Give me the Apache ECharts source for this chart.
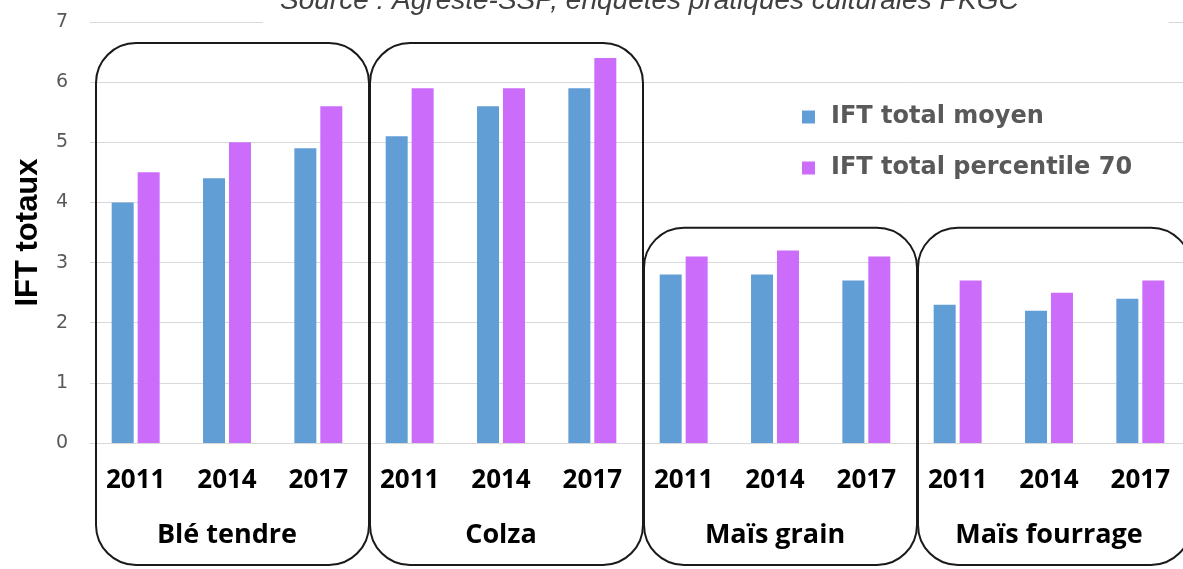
<!DOCTYPE html>
<html>
<head>
<meta charset="utf-8">
<script src="https://cdn.jsdelivr.net/npm/echarts@6/dist/echarts.min.js"></script>
<style>
  html, body { margin: 0; padding: 0; background: #fff; }
  .bar { width: 1183px; height: 569px; }
</style>
</head>
<body>
<div class="bar"></div>
<script>
// données
const groups = ['Blé tendre', 'Colza', 'Maïs grain', 'Maïs fourrage'];
const years = ['2011', '2014', '2017'];
const iftMoyen = [4.0, 4.4, 4.9, 5.1, 5.6, 5.9, 2.8, 2.8, 2.7, 2.3, 2.2, 2.4];
const iftP70 = [4.5, 5.0, 5.6, 5.9, 5.9, 6.4, 3.1, 3.2, 3.1, 2.7, 2.5, 2.7];
const yTicks = [0, 1, 2, 3, 4, 5, 6, 7];
// hauteur du haut des cadres arrondis (en unités IFT)
const frameTops = [6.65, 6.65, 3.58, 3.58];

{
  const categories = [];
  groups.forEach(g => years.forEach(y => categories.push(g + '|' + y)));

  let option = {
    title: {
      text: 'Source : Agreste-SSP, enquêtes pratiques culturales PKGC',
      left: 263,
      top: -13,
      padding: [0, 150, 15, 17],
      backgroundColor: '#fff',
      textStyle: {
        fontFamily: 'Liberation Sans',
        fontStyle: 'italic',
        fontWeight: 'normal',
        fontSize: 28,
        color: '#404040'
      }
    },
    legend: {
      data: ['IFT total moyen', 'IFT total percentile 70'],
      orient: 'vertical',
      left: 797,
      top: 100,
      icon: 'rect',
      itemWidth: 13,
      itemHeight: 13,
      itemGap: 27,
      textStyle: {
        fontFamily: 'DejaVu Sans',
        fontWeight: 'bold',
        fontSize: 24,
        color: '#595959',
        padding: [0, 0, 0, 11]
      }
    },
    grid: {
      left: 90,
      right: -3,
      top: 22,
      bottom: 126,
      outerBoundsMode: 'none'
    },
    xAxis: [{
      type: 'category',
      data: categories,
      axisLine: { lineStyle: { color: '#d9d9d9' } },
      axisTick: { show: false },
      axisLabel: {
        interval: 0,
        margin: 25,
        fontFamily: 'Open Sans',
        fontWeight: 'bold',
        fontSize: 26,
        color: '#000',
        formatter: v => v.split('|')[1]
      }
    }, {
      type: 'category',
      data: groups,
      position: 'bottom',
      offset: 54,
      axisLine: { show: false },
      axisTick: { show: false },
      axisLabel: {
        interval: 0,
        margin: 25,
        fontFamily: 'Open Sans',
        fontWeight: 'bold',
        fontSize: 27,
        color: '#000'
      }
    }],
    yAxis: {
      type: 'value',
      min: yTicks[0],
      max: yTicks[yTicks.length - 1],
      interval: 1,
      name: 'IFT totaux',
      nameLocation: 'middle',
      nameGap: 46,
      nameTextStyle: {
        fontFamily: 'Liberation Sans',
        fontWeight: 'bold',
        fontSize: 31,
        color: '#000'
      },
      axisLine: { show: false },
      axisTick: { show: false },
      axisLabel: {
        margin: 22,
        fontFamily: 'DejaVu Sans',
        fontSize: 19,
        color: '#595959'
      },
      splitLine: { lineStyle: { color: '#d9d9d9', width: 1 } }
    },
    series: [{
      name: 'IFT total moyen',
      type: 'bar',
      barWidth: 22,
      barGap: '18%',
      itemStyle: { color: '#629ed6' },
      data: iftMoyen
    }, {
      name: 'IFT total percentile 70',
      type: 'bar',
      barWidth: 22,
      itemStyle: { color: '#cc6cfa' },
      data: iftP70
    }, {
      // cadres arrondis autour de chaque culture
      type: 'custom',
      silent: true,
      clip: false,
      z: 5,
      encode: { x: 0, y: 1 },
      data: frameTops.map((t, i) => [i * years.length, t]),
      renderItem: (params, api) => {
        const band = api.size([1, 0])[0];
        const base = api.coord([api.value(0), 0]);
        const top = api.coord([api.value(0), api.value(1)])[1];
        return {
          type: 'rect',
          shape: {
            x: base[0] - band / 2 + 6,
            y: top,
            width: band * years.length - 1,
            height: base[1] + 122 - top,
            r: 40
          },
          style: { fill: 'none', stroke: '#1a1a1a', lineWidth: 2 }
        };
      }
    }]
  };
  let myChart = echarts.init(document.querySelector('.bar'));
  myChart.setOption(option);
}
</script>
</body>
</html>
